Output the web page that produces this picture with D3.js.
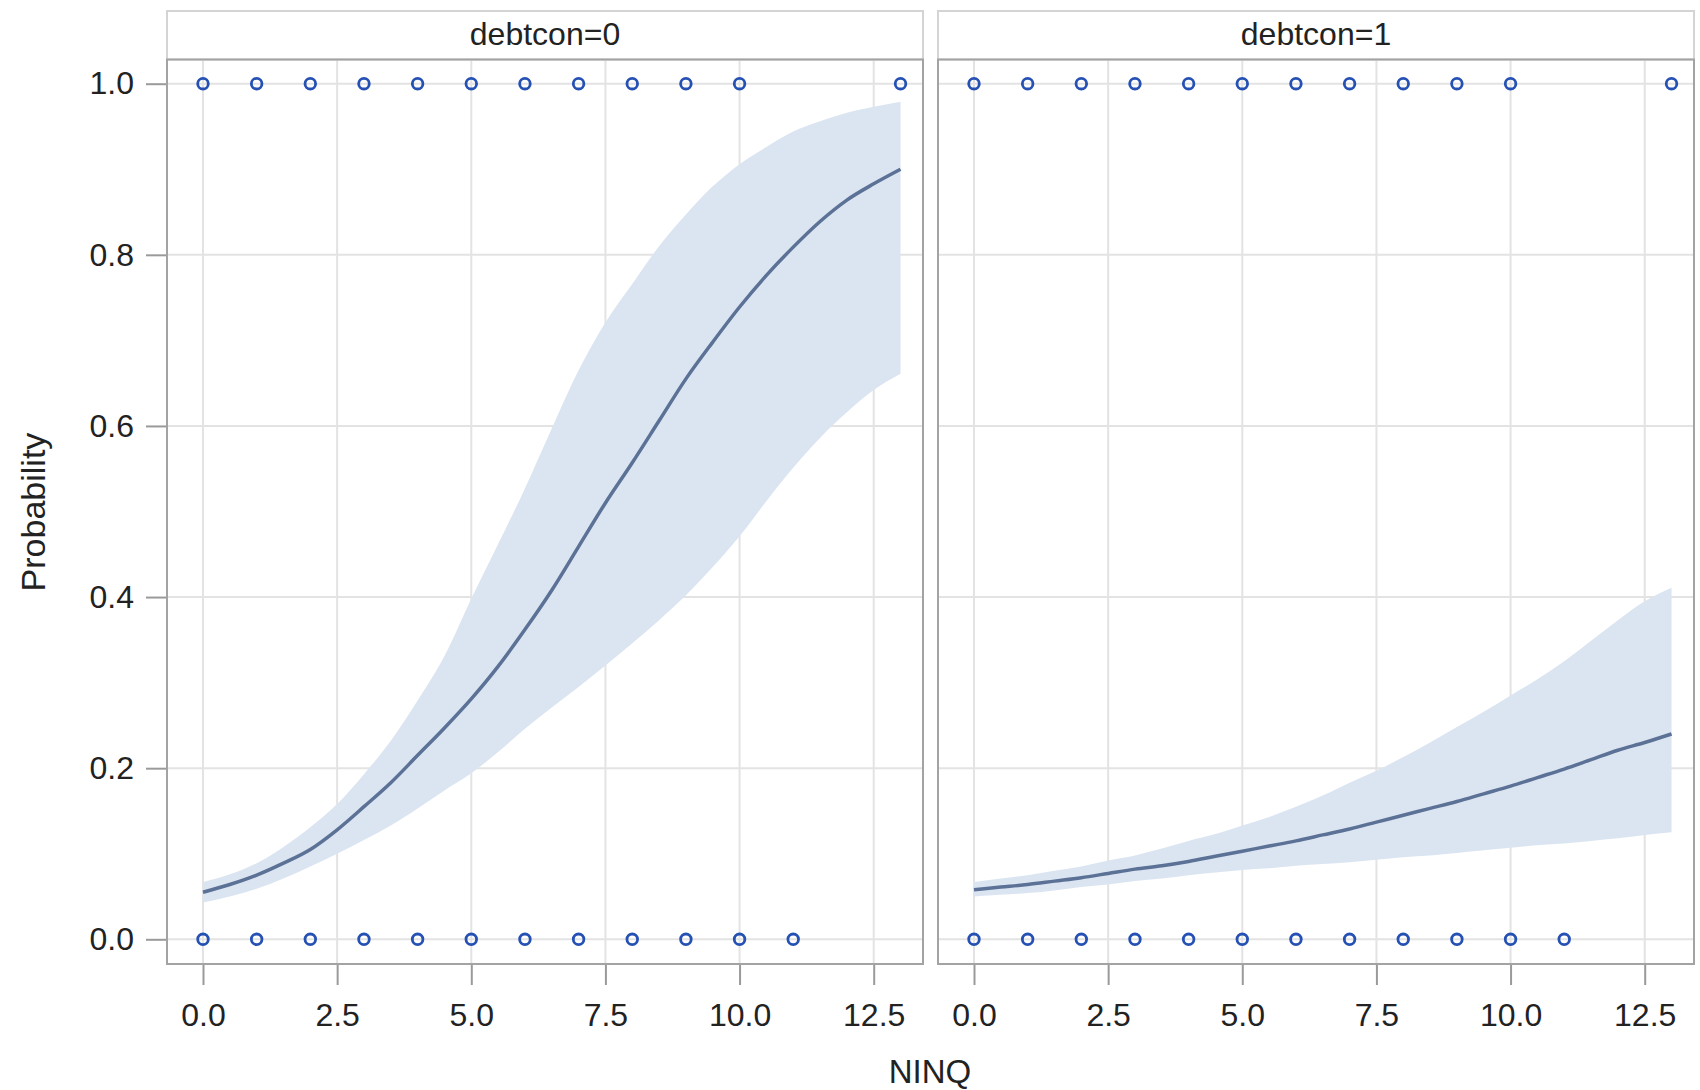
<!DOCTYPE html>
<html>
<head>
<meta charset="utf-8">
<script src="https://cdn.jsdelivr.net/npm/d3@7"></script>
<style>
body { margin: 0; background: #fff; }
text { font-family: "Liberation Sans", Arial, sans-serif; fill: #222; }
</style>
</head>
<body>
<svg id="chart" width="1700" height="1090"></svg>
<script>
// NINQ values where the fitted curve and its limits were read
var ninq = [0, 0.5, 1, 1.5, 2, 2.5, 3, 3.5, 4, 4.5, 5, 5.5, 6, 6.5, 7, 7.5, 8, 8.5, 9, 9.5, 10, 10.5, 11, 11.5, 12, 12.5, 13];

var panelLabels = ["debtcon=0", "debtcon=1"];

// debtcon=0
var fit0   = [0.055, 0.064, 0.075, 0.089, 0.105, 0.128, 0.155, 0.183, 0.215, 0.247, 0.281, 0.319, 0.362, 0.408, 0.459, 0.510, 0.557, 0.606, 0.655, 0.698, 0.739, 0.776, 0.809, 0.839, 0.864, 0.883, 0.900];
var upper0 = [0.067, 0.076, 0.089, 0.108, 0.131, 0.158, 0.193, 0.232, 0.279, 0.331, 0.398, 0.462, 0.527, 0.597, 0.665, 0.721, 0.766, 0.810, 0.847, 0.880, 0.906, 0.926, 0.944, 0.956, 0.966, 0.973, 0.979];
var lower0 = [0.043, 0.050, 0.059, 0.071, 0.085, 0.100, 0.116, 0.133, 0.153, 0.174, 0.194, 0.219, 0.246, 0.271, 0.295, 0.320, 0.346, 0.373, 0.402, 0.435, 0.471, 0.512, 0.551, 0.586, 0.616, 0.642, 0.661];

// debtcon=1
var fit1   = [0.058, 0.061, 0.064, 0.068, 0.072, 0.077, 0.082, 0.086, 0.091, 0.097, 0.103, 0.109, 0.115, 0.122, 0.129, 0.137, 0.145, 0.153, 0.161, 0.170, 0.179, 0.189, 0.199, 0.210, 0.221, 0.230, 0.240];
var upper1 = [0.067, 0.071, 0.075, 0.080, 0.085, 0.092, 0.098, 0.106, 0.115, 0.123, 0.133, 0.143, 0.155, 0.168, 0.183, 0.197, 0.213, 0.230, 0.248, 0.266, 0.285, 0.304, 0.325, 0.349, 0.373, 0.395, 0.411];
var lower1 = [0.050, 0.052, 0.054, 0.057, 0.061, 0.064, 0.068, 0.071, 0.075, 0.078, 0.081, 0.083, 0.086, 0.088, 0.090, 0.093, 0.096, 0.098, 0.101, 0.104, 0.107, 0.110, 0.112, 0.115, 0.118, 0.122, 0.125];

// observed responses (same NINQ values in both panels)
var obsOnes  = [0, 1, 2, 3, 4, 5, 6, 7, 8, 9, 10, 13];
var obsZeros = [0, 1, 2, 3, 4, 5, 6, 7, 8, 9, 10, 11];

var xTicks = [0, 2.5, 5, 7.5, 10, 12.5];
var yTicks = [0, 0.2, 0.4, 0.6, 0.8, 1.0];

var fits   = [fit0, fit1];
var uppers = [upper0, upper1];
var lowers = [lower0, lower1];

var svg = d3.select('#chart');

var frameLeft = [167, 938];
var frameW = 756;
var frameTop = 59.5, frameBottom = 964;
var headTop = 11;

var y = d3.scaleLinear().domain([0, 1]).range([939.3, 83.7]);

for (var p = 0; p < 2; p++) {
	var x0 = frameLeft[p] + 36;
	var x = d3.scaleLinear().domain([0, 12.5]).range([x0, x0 + 670.7]);
	var g = svg.append('g');

	// header strip
	g.append('rect')
		.attr("x", frameLeft[p])
		.attr("y", headTop)
		.attr("width", frameW)
		.attr("height", frameTop - headTop)
		.style("fill", "#fff")
		.style("stroke", "#d4d4d4")
		.style("stroke-width", 2);
	g.append('text')
		.attr("x", frameLeft[p] + frameW / 2)
		.attr("y", 45)
		.attr("text-anchor", "middle")
		.style("font-size", "32px")
		.text(panelLabels[p]);

	// grid
	g.selectAll('line.vg').data(xTicks).enter().append('line')
		.attr("class", "vg")
		.attr("x1", function(d){ return x(d); })
		.attr("x2", function(d){ return x(d); })
		.attr("y1", frameTop)
		.attr("y2", frameBottom)
		.style("stroke", "#e3e3e3")
		.style("stroke-width", 2);
	g.selectAll('line.hg').data(yTicks).enter().append('line')
		.attr("class", "hg")
		.attr("x1", frameLeft[p])
		.attr("x2", frameLeft[p] + frameW)
		.attr("y1", function(d){ return y(d); })
		.attr("y2", function(d){ return y(d); })
		.style("stroke", "#e3e3e3")
		.style("stroke-width", 2);

	// confidence band
	var band = d3.area()
		.x(function(d, i){ return x(ninq[i]); })
		.y0(function(d, i){ return y(lowers[p][i]); })
		.y1(function(d, i){ return y(uppers[p][i]); })
		.curve(d3.curveMonotoneX);
	g.append('path')
		.datum(ninq)
		.attr("d", band)
		.style("fill", "#dbe5f1");

	// fitted line
	var line = d3.line()
		.x(function(d, i){ return x(ninq[i]); })
		.y(function(d){ return y(d); })
		.curve(d3.curveMonotoneX);
	g.append('path')
		.datum(fits[p])
		.attr("d", line)
		.style("fill", "none")
		.style("stroke", "#5b7196")
		.style("stroke-width", 3.5);

	// observations
	var obs = obsOnes.map(function(v){ return [v, 1]; })
		.concat(obsZeros.map(function(v){ return [v, 0]; }));
	g.selectAll('circle.obs').data(obs).enter().append('circle')
		.attr("class", "obs")
		.attr("cx", function(d){ return x(d[0]); })
		.attr("cy", function(d){ return y(d[1]); })
		.attr("r", 5.3)
		.style("fill", "none")
		.style("stroke", "#2550b4")
		.style("stroke-width", 2.8);

	// frame
	g.append('rect')
		.attr("x", frameLeft[p])
		.attr("y", frameTop)
		.attr("width", frameW)
		.attr("height", frameBottom - frameTop)
		.style("fill", "none")
		.style("stroke", "#a3a3a3")
		.style("stroke-width", 2);

	// bottom axis
	var xa = g.append('g')
		.attr("transform", "translate(0," + (frameBottom + 1) + ")")
		.call(d3.axisBottom(x).tickValues(xTicks).tickFormat(d3.format(".1f")).tickSize(20).tickPadding(18));
	xa.select('.domain').remove();
	xa.selectAll('line').style("stroke", "#9a9a9a").style("stroke-width", 2);
	xa.selectAll('text').style("font-size", "32px").style("fill", "#222").attr("font-family", null);

	if (p === 0) {
		var ya = g.append('g')
			.attr("transform", "translate(" + (frameLeft[p] - 1) + ",0)")
			.call(d3.axisLeft(y).tickValues(yTicks).tickFormat(d3.format(".1f")).tickSize(20).tickPadding(12));
		ya.select('.domain').remove();
		ya.selectAll('line').style("stroke", "#9a9a9a").style("stroke-width", 2);
		ya.selectAll('text').style("font-size", "32px").style("fill", "#222").attr("font-family", null);
	}
}

// axis titles
svg.append('text')
	.attr("x", 930)
	.attr("y", 1083)
	.attr("text-anchor", "middle")
	.style("font-size", "33px")
	.text("NINQ");
svg.append('text')
	.attr("transform", "translate(45,512) rotate(-90)")
	.attr("text-anchor", "middle")
	.style("font-size", "34px")
	.text("Probability");
</script>
</body>
</html>
